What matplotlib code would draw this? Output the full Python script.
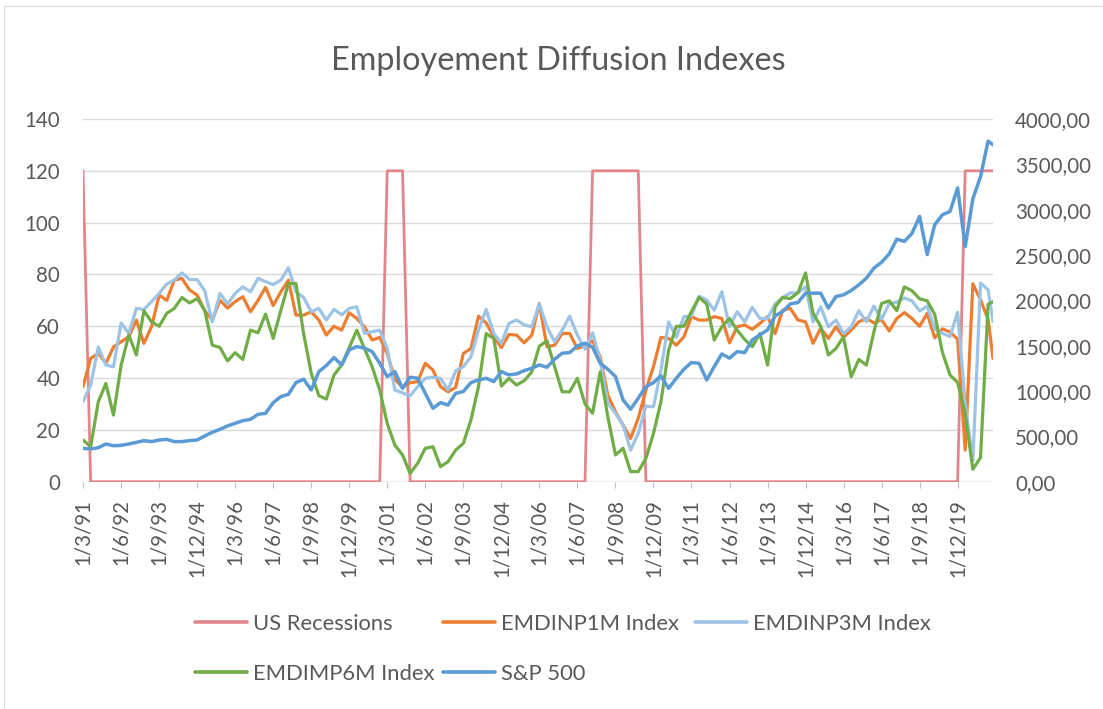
import matplotlib
matplotlib.use("Agg")
import matplotlib.pyplot as plt
from matplotlib.lines import Line2D
import pandas as pd

# ---------------- data ----------------
dates = list(pd.date_range("1991-03-01", periods=120, freq="3MS")) + [pd.Timestamp("2021-01-29")]

us_recessions = [120,
                 0, 0, 0, 0, 0, 0, 0, 0, 0, 0, 0, 0, 0, 0, 0, 0, 0, 0, 0, 0,
                 0, 0, 0, 0, 0, 0, 0, 0, 0, 0, 0, 0, 0, 0, 0, 0, 0, 0, 0,
                 120, 120, 120,
                 0, 0, 0, 0, 0, 0, 0, 0, 0, 0, 0, 0, 0, 0, 0, 0, 0, 0, 0, 0, 0, 0, 0, 0,
                 120, 120, 120, 120, 120, 120, 120,
                 0, 0, 0, 0, 0, 0, 0, 0, 0, 0, 0, 0, 0, 0, 0, 0, 0, 0, 0, 0, 0,
                 0, 0, 0, 0, 0, 0, 0, 0, 0, 0, 0, 0, 0, 0, 0, 0, 0, 0, 0, 0, 0,
                 120, 120, 120, 120, 120]

emdinp1m = [36.7, 47.6, 49.5, 45.7, 52.0, 54.0, 56.0, 62.4, 53.4, 59.8, 72.0, 70.0, 77.8, 78.5, 74.0, 72.0,
            66.0, 62.4, 70.0, 67.0, 69.5, 71.4, 65.6, 70.0, 75.0, 68.0, 73.3, 77.8, 64.3, 64.3, 65.6, 62.4,
            56.6, 60.0, 58.5, 65.2, 63.0,
            59.8, 54.7, 55.7, 49.5, 39.5, 36.4, 38.2, 38.6, 45.7, 43.1, 36.7, 34.7, 36.4, 49.5, 51.4, 63.9,
            61.3, 55.9, 51.8, 56.8, 56.6, 53.6, 56.6, 68.8, 52.1, 52.7, 57.2, 57.2, 51.4, 52.7, 54.4, 48.2,
            33.4, 27.0, 21.9, 16.7, 24.4,
            35.4, 44.4, 55.7, 55.3, 52.7, 55.9, 63.7, 62.4, 62.4, 63.7, 63.0, 53.6, 59.8, 60.5, 58.8, 61.1,
            63.7, 57.2, 66.2, 66.9, 62.4, 61.7, 53.4, 59.2, 55.3, 59.8, 55.7, 58.5, 61.7, 63.0, 61.3, 62.5,
            58.2, 63.0, 65.3, 63.0, 60.0,
            65.0, 55.5, 59.0, 57.8, 55.0, 12.2, 76.4, 70.2, 62.7, 47.6]

emdinp3m = [30.9, 37.3, 52.0, 45.0, 44.4, 61.3, 57.2, 66.9, 66.5, 69.5, 72.7, 76.3, 77.8, 80.6, 78.0, 78.0,
            73.7, 61.7, 72.7, 68.6, 72.7, 75.2, 73.3, 78.5, 77.2, 76.1, 77.8, 82.6, 73.3, 71.1, 65.6, 66.9,
            62.4, 66.5, 64.4, 66.9, 67.5,
            57.2, 57.9, 58.5, 51.4, 35.4, 34.3, 33.1, 36.7, 39.9, 40.3, 39.9, 35.4, 42.8, 44.4, 48.2, 58.5,
            66.5, 57.2, 53.4, 61.1, 62.4, 60.5, 59.8, 68.6, 59.8, 54.0, 58.5, 63.9, 56.6, 51.1, 57.5, 46.9,
            30.2, 26.4, 21.9, 12.2, 18.6,
            29.2, 28.9, 43.1, 61.7, 55.7, 63.7, 63.9, 71.6, 70.1, 66.2, 73.3, 59.8, 65.6, 61.7, 67.3, 63.0,
            63.0, 68.6, 71.1, 72.9, 72.9, 75.2, 61.7, 67.5, 59.8, 62.4, 57.2, 59.8, 66.0, 61.7, 67.8, 62.7,
            68.8, 69.3, 70.9, 69.8, 65.9,
            67.8, 59.0, 57.3, 56.0, 65.4, 30.0, 8.0, 76.7, 74.1, 61.8]

emdimp6m = [16.1, 13.5, 30.9, 37.9, 25.7, 45.0, 56.6, 48.9, 66.0, 61.7, 60.0, 65.0, 66.9, 71.1, 69.0, 70.7,
            66.2, 52.7, 51.8, 46.6, 49.8, 47.2, 58.5, 57.5, 64.7, 55.3, 66.2, 76.5, 76.5, 57.2, 41.8, 33.2,
            31.9, 41.2, 45.0, 51.8, 58.5,
            51.4, 44.4, 35.4, 22.5, 14.1, 10.3, 3.2, 7.1, 12.9, 13.5, 5.8, 7.7, 12.2, 14.8, 23.8, 36.7,
            57.2, 55.3, 36.9, 39.9, 37.3, 39.0, 42.4, 52.3, 54.4, 44.4, 34.7, 34.7, 39.9, 30.0, 26.4, 42.4,
            25.1, 10.3, 12.9, 3.9, 3.9,
            9.0, 18.6, 30.9, 50.8, 60.0, 60.0, 65.6, 71.1, 68.6, 54.7, 59.8, 63.0, 58.5, 54.9, 52.1, 57.2,
            45.0, 67.5, 71.1, 70.7, 72.9, 80.6, 65.0, 60.0, 48.9, 51.4, 55.9, 40.5, 47.2, 45.0, 57.9, 68.8,
            69.8, 66.0, 75.2, 73.7, 70.6,
            69.8, 64.6, 50.0, 41.2, 38.3, 26.4, 4.8, 9.3, 68.5, 69.5]

sp500 = [368, 361, 375, 416, 397, 401, 416, 434, 453, 442, 460, 467, 442, 442, 453, 460,
         504, 545, 578, 615, 644, 673, 688, 743, 754, 872, 938, 964, 1093, 1130, 1012, 1214,
         1281, 1369, 1288, 1454, 1490,
         1472, 1435, 1306, 1159, 1214, 1030, 1152, 1141, 975, 810, 872, 846, 975, 994, 1093, 1122,
         1141, 1104, 1214, 1178, 1189, 1225, 1251, 1288, 1262, 1351, 1417, 1424, 1498, 1527, 1483, 1306,
         1240, 1159, 902, 799, 920,
         1049, 1093, 1167, 1030, 1141, 1240, 1314, 1306, 1122, 1270, 1409, 1362, 1435, 1424, 1564, 1619,
         1674, 1829, 1877, 1961, 1976, 2079, 2079, 2079, 1914, 2042, 2061, 2109, 2171, 2245, 2355, 2420,
         2513, 2675, 2650, 2738, 2926,
         2505, 2833, 2944, 2980, 3240, 2594, 3120, 3363, 3756, 3716]

series_names = ["US Recessions", "EMDINP1M Index", "EMDINP3M Index", "EMDIMP6M Index", "S&P 500"]
left_ticks = [0, 20, 40, 60, 80, 100, 120, 140]
right_ticks = [0, 500, 1000, 1500, 2000, 2500, 3000, 3500, 4000]
x_tick_dates = list(pd.date_range("1991-03-01", "2019-12-01", freq="15MS"))

# ---------------- style ----------------
colors = ["#E2868B", "#ED7D31", "#9DC3E6", "#70AD47", "#5B9BD5"]
FONT = "Lato"
TXT = "#595959"
GRID = "#D9D9D9"
W, H = 1103, 709

plt.rcParams["font.family"] = [FONT, "DejaVu Sans"]

fig = plt.figure(figsize=(W / 100, H / 100), dpi=100)
fig.patch.set_facecolor("white")
# chart-area border (only top and left edges are visible in the screenshot)
fig.add_artist(Line2D([4 / W, 1], [1 - 6 / H, 1 - 6 / H], transform=fig.transFigure, color=GRID, lw=0.8))
fig.add_artist(Line2D([4 / W, 4 / W], [0, 1 - 6 / H], transform=fig.transFigure, color=GRID, lw=0.8))

L, R, T, B = 83, 993, 119, 481.7
ax = fig.add_axes([L / W, 1 - B / H, (R - L) / W, (B - T) / H])
ax2 = ax.twinx()

lw = 2.3
kw = dict(solid_joinstyle="round", solid_capstyle="round")
ax.plot(dates, us_recessions, color=colors[0], lw=2.0, zorder=3, **kw)
ax.plot(dates, emdinp1m, color=colors[1], lw=lw, zorder=4, **kw)
ax.plot(dates, emdinp3m, color=colors[2], lw=lw, zorder=5, **kw)
ax.plot(dates, emdimp6m, color=colors[3], lw=lw, zorder=6, **kw)
ax2.plot(dates, sp500, color=colors[4], lw=lw + 0.2, zorder=7, **kw)

ax.set_xlim(dates[0], dates[-1])
ax.set_ylim(0, 140)
ax2.set_ylim(0, 4000)

ax.set_yticks(left_ticks)
ax.set_yticklabels([str(v) for v in left_ticks])
ax2.set_yticks(right_ticks)
ax2.set_yticklabels([f"{v:.2f}".replace(".", ",") for v in right_ticks])

ax.set_xticks(x_tick_dates)
ax.set_xticklabels([f"{d.day}/{d.month}/{d:%y}" for d in x_tick_dates], rotation=90, va="top", ha="center")

fs = 14.8
ax.tick_params(axis="y", length=0, pad=16.5, labelsize=fs, labelcolor=TXT)
ax2.tick_params(axis="y", length=0, pad=15.8, labelsize=fs, labelcolor=TXT)
ax.tick_params(axis="x", length=4, width=0.8, color="#BFBFBF", pad=8.5, labelsize=fs, labelcolor=TXT)

ax.grid(axis="y", color=GRID, linewidth=1.0)
ax.set_axisbelow(True)
for a in (ax, ax2):
    for s in ("top", "left", "right", "bottom"):
        a.spines[s].set_visible(False)
ax.axhline(0, color="#D0D0D0", lw=1.0, zorder=2)
ax.set_zorder(2)
ax2.set_zorder(3)
ax.patch.set_visible(False)
ax2.patch.set_visible(False)

# title
fig.text(558 / W, 1 - 61 / H, "Employement Diffusion Indexes", ha="center", va="center",
         fontsize=23.3, color=TXT)

# legend (manual placement, Excel style)
lfs = 15.8
entries = [(0, 195, 622), (1, 443, 622), (2, 695, 622), (3, 195, 672), (4, 443, 672)]
for idx, x0, y0 in entries:
    fig.add_artist(Line2D([x0 / W, (x0 + 52) / W], [1 - y0 / H, 1 - y0 / H], transform=fig.transFigure,
                          color=colors[idx], lw=2.6, solid_capstyle="round"))
    fig.text((x0 + 58) / W, 1 - y0 / H, series_names[idx], ha="left", va="center_baseline",
             fontsize=lfs, color=TXT)

fig.savefig("out.png", dpi=100, facecolor="white")
